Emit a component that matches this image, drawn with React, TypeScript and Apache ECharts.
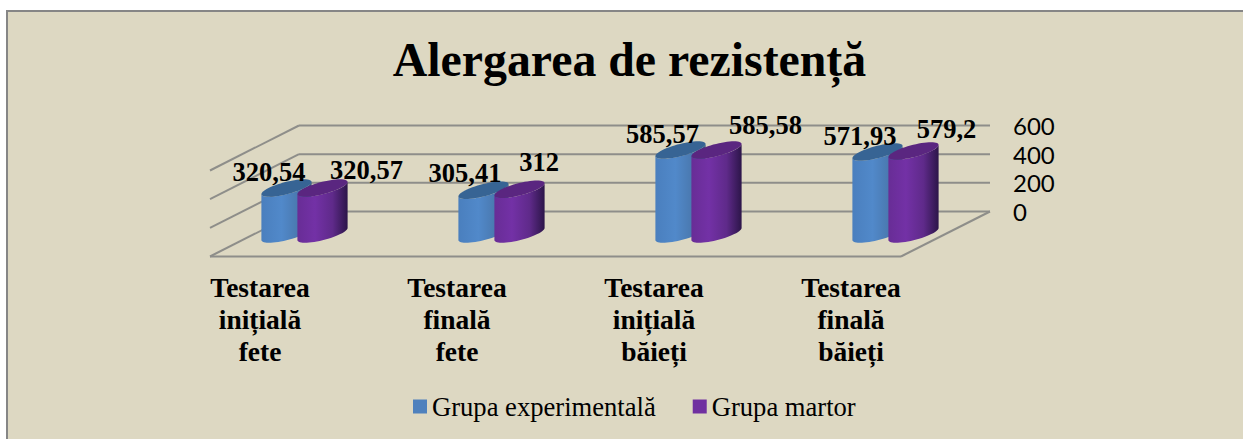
import React, { useEffect, useRef } from "react";
import * as echarts from "echarts";

const title = "Alergarea de rezistență";
const categories = [
  "Testarea\ninițială\nfete",
  "Testarea\nfinală\nfete",
  "Testarea\ninițială\nbăieți",
  "Testarea\nfinală\nbăieți",
];
const seriesNames = ["Grupa experimentală", "Grupa martor"];
const experimental = [320.54, 305.41, 585.57, 571.93];
const control = [320.57, 312, 585.58, 579.2];
const axisTicks = [0, 200, 400, 600];

// layout
const SERIF = '"Liberation Serif", "Times New Roman", serif';
const depthX = 89;
const depthY = 45;
const wallLeft = 299;
const wallRight = 990;
const halfW = 18;
const halfDepthX = 17.5;
const halfDepthY = 8.75;
const labelNudgeBlue = [[-17.5, -16], [-18.5, -17], [-18, -16], [-17.5, -16]];
const labelNudgePurple = [[44, -18], [19.5, -27], [49, -25], [33, -22]];

const blueGrad = [
  [0, "#4a7fbe"],
  [0.4, "#5189ca"],
  [0.72, "#4a79b0"],
  [1, "#2f5078"],
];
const purpleGrad = [
  [0, "#682d96"],
  [0.35, "#7331a6"],
  [0.7, "#5f2a8a"],
  [1, "#2c1549"],
];

const t0 = Math.atan2(halfDepthX, halfW);
function ellipsePoint(cx: number, cy: number, t: number) {
  return [
    cx + halfW * Math.cos(t) + halfDepthX * Math.sin(t),
    cy - halfDepthY * Math.sin(t),
  ];
}
function arc(cx: number, cy: number, from: number, to: number, n = 28) {
  const pts: number[][] = [];
  for (let i = 0; i <= n; i++) pts.push(ellipsePoint(cx, cy, from + ((to - from) * i) / n));
  return pts;
}

function makeBarRenderer(side: number, grad: (string | number)[][], topColor: string) {
  return (_p: any, api: any) => {
    const i = api.value(0);
    const v = api.value(1);
    const base = api.coord([i, 0]);
    const top = api.coord([i, v]);
    const cx = base[0] + depthX / 2 + side * halfW;
    const by = base[1] + depthY / 2;
    const ty = top[1] + depthY / 2;
    const body = [
      ...arc(cx, by, t0 + Math.PI, t0 + 2 * Math.PI),
      ...arc(cx, ty, t0 + 2 * Math.PI, t0 + Math.PI),
    ];
    return {
      type: "group",
      children: [
        {
          type: "polygon",
          shape: { points: body },
          style: {
            fill: new echarts.graphic.LinearGradient(
              0, 0, 1, 0,
              grad.map((g) => ({ offset: g[0] as number, color: g[1] as string }))
            ),
          },
        },
        {
          type: "polygon",
          shape: { points: arc(cx, ty, 0, 2 * Math.PI, 56) },
          style: { fill: topColor },
        },
      ],
    };
  };
}

function makeLabelRenderer(side: number, nudges: number[][]) {
  return (_p: any, api: any) => {
    const i = api.value(0);
    const v = api.value(1);
    const base = api.coord([i, 0]);
    const top = api.coord([i, v]);
    return {
      type: "text",
      style: {
        x: base[0] + depthX / 2 + side * halfW + nudges[i][0],
        y: top[1] + depthY / 2 + nudges[i][1],
        text: String(v).replace(".", ","),
        font: `bold 26.5px ${SERIF}`,
        fill: "#000",
        textAlign: "center",
        textVerticalAlign: "middle",
      },
    };
  };
}

function renderWall(_p: any, api: any) {
  const v = api.value(1);
  const y = api.coord([0, v])[1];
  const lineStyle = { stroke: "#8e8e8a", lineWidth: 2 };
  const children: any[] = [
    { type: "line", shape: { x1: wallLeft, y1: y, x2: wallRight, y2: y }, style: lineStyle },
    { type: "line", shape: { x1: wallLeft, y1: y, x2: wallLeft - depthX, y2: y + depthY }, style: lineStyle },
  ];
  if (v === 0) {
    children.push(
      { type: "line", shape: { x1: wallLeft - depthX, y1: y + depthY, x2: wallRight - depthX, y2: y + depthY }, style: lineStyle },
      { type: "line", shape: { x1: wallRight - depthX, y1: y + depthY, x2: wallRight, y2: y }, style: lineStyle }
    );
  }
  return { type: "group", children };
}

export default function App() {
  const ref = useRef<HTMLDivElement>(null);
  useEffect(() => {
    const chart = echarts.init(ref.current!, null, { renderer: "svg" });
    const blueData = experimental.map((v, i) => [i, v]);
    const purpleData = control.map((v, i) => [i, v]);
    chart.setOption({
      animation: false,
      backgroundColor: "#ffffff",
      graphic: [
        {
          type: "rect",
          z: -10,
          shape: { x: 7, y: 11, width: 1300, height: 500 },
          style: { fill: "#ddd8c2", stroke: "#868686", lineWidth: 2 },
        },
      ],
      title: {
        text: title,
        left: 624.5,
        top: 30,
        textAlign: "center",
        textStyle: { fontFamily: SERIF, fontWeight: "bold", fontSize: 47.8, color: "#000" },
      },
      legend: {
        left: 408,
        top: 388,
        icon: "rect",
        itemWidth: 14,
        itemHeight: 14,
        itemGap: 37,
        data: seriesNames,
        textStyle: { fontFamily: SERIF, fontSize: 26.6, color: "#000" },
      },
      grid: { left: 161.5, width: 788, top: 125.5, height: 86 },
      xAxis: {
        type: "category",
        data: categories,
        axisLine: { show: false },
        axisTick: { show: false },
        axisLabel: {
          interval: 0,
          margin: 60,
          fontFamily: SERIF,
          fontWeight: "bold",
          fontSize: 27.5,
          lineHeight: 32,
          color: "#000",
        },
      },
      yAxis: {
        type: "value",
        position: "right",
        min: 0,
        max: 600,
        interval: 200,
        axisLine: { show: false },
        axisTick: { show: false },
        splitLine: { show: false },
        axisLabel: { margin: 63.5, fontFamily: "Lato", fontSize: 24, color: "#000" },
      },
      series: [
        {
          type: "custom",
          name: "walls",
          silent: true,
          z: 1,
          renderItem: renderWall,
          data: axisTicks.map((v) => [0, v]),
        },
        {
          type: "custom",
          name: seriesNames[0],
          z: 2,
          itemStyle: { color: "#4f81bd" },
          renderItem: makeBarRenderer(-1, blueGrad, "#376494"),
          data: blueData,
        },
        {
          type: "custom",
          name: seriesNames[1],
          z: 3,
          itemStyle: { color: "#7030a0" },
          renderItem: makeBarRenderer(1, purpleGrad, "#5a2680"),
          data: purpleData,
        },
        {
          type: "custom",
          name: "labelsA",
          z: 4,
          silent: true,
          renderItem: makeLabelRenderer(-1, labelNudgeBlue),
          data: blueData,
        },
        {
          type: "custom",
          name: "labelsB",
          z: 4,
          silent: true,
          renderItem: makeLabelRenderer(1, labelNudgePurple),
          data: purpleData,
        },
      ],
    });
    return () => chart.dispose();
  }, []);
  return (
    <div
      ref={ref}
      style={{ position: "fixed", left: 0, top: 0, width: 1243, height: 439 }}
    />
  );
}
